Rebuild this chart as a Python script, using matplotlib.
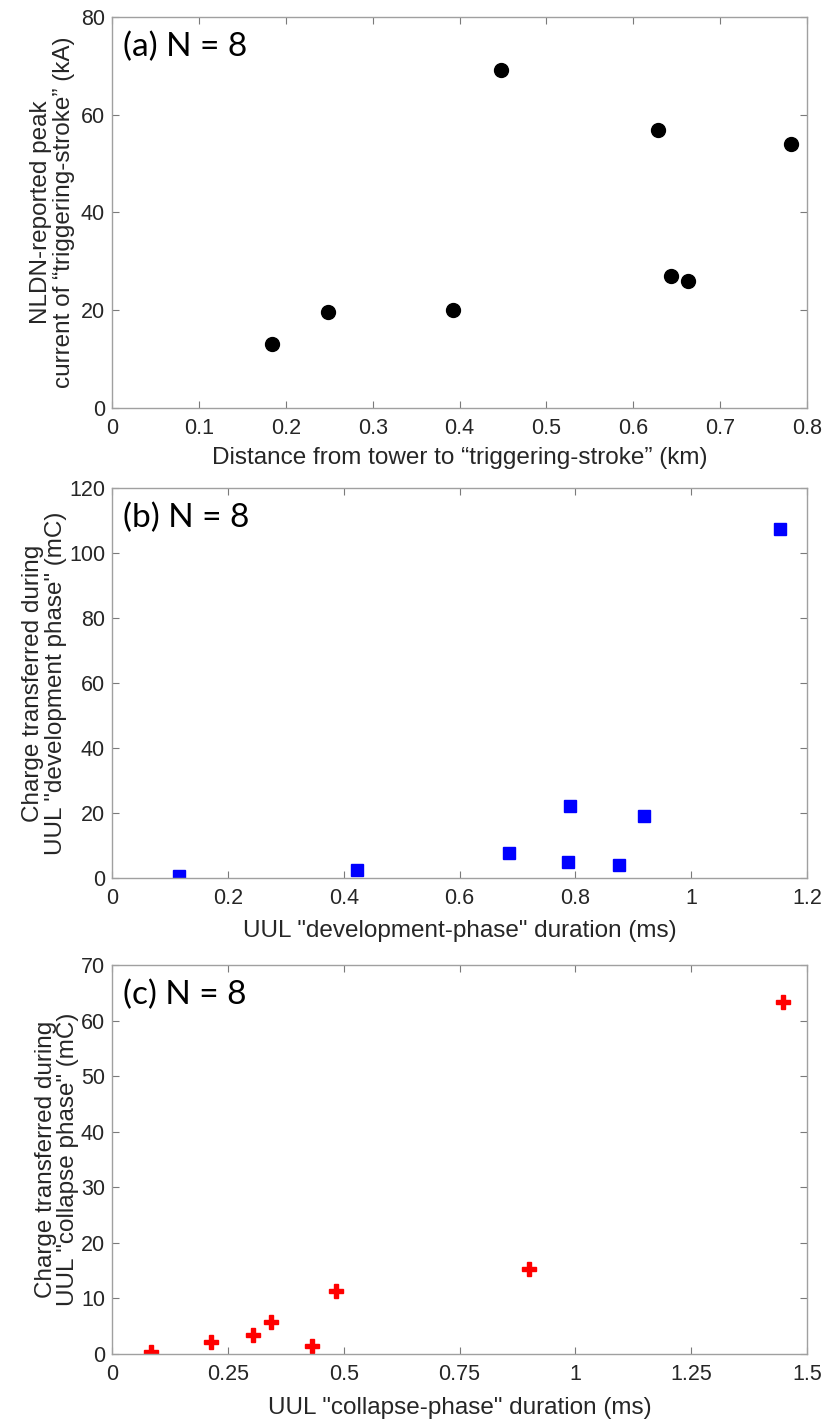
import matplotlib
matplotlib.use('Agg')
import matplotlib.pyplot as plt

# panel (a): NLDN peak current vs distance
dist_km = [0.184, 0.249, 0.392, 0.448, 0.628, 0.644, 0.663, 0.782]
peak_ka = [13.0, 19.7, 20.0, 69.2, 56.9, 27.0, 26.0, 54.0]

# panel (b): development phase
dev_ms = [0.116, 0.423, 0.686, 0.790, 0.787, 0.876, 0.919, 1.153]
dev_mc = [0.5, 2.4, 7.7, 22.1, 4.8, 3.9, 19.2, 107.2]

# panel (c): collapse phase
col_ms = [0.085, 0.214, 0.305, 0.344, 0.431, 0.483, 0.900, 1.449]
col_mc = [0.3, 2.1, 3.5, 5.8, 1.4, 11.3, 15.3, 63.4]

TXT = '#262626'
LBL = 17.5
plt.rcParams['font.family'] = ['Liberation Sans', 'DejaVu Sans']

fig = plt.figure(figsize=(8.25, 14.22), dpi=100)

def setup(ax, xlim, ylim, xticks, yticks, xticklabels=None):
    ax.set_xlim(xlim)
    ax.set_ylim(ylim)
    ax.set_xticks(xticks)
    if xticklabels is not None:
        ax.set_xticklabels(xticklabels)
    ax.set_yticks(yticks)
    ax.tick_params(direction='in', top=True, right=True, length=5,
                   width=0.8, color='#7a7a7a', labelsize=15.5, labelcolor=TXT)
    ax.tick_params(axis='x', pad=7)
    ax.tick_params(axis='y', pad=5)
    for s in ax.spines.values():
        s.set_color('#a0a0a0')
        s.set_linewidth(1.0)

def panel_label(ax, txt):
    ax.text(0.016, 0.962, txt, transform=ax.transAxes, ha='left', va='top',
            fontsize=24, family=['Lato', 'DejaVu Sans'], color='black')

# (a)
ax1 = fig.add_axes([0.1358, 0.7131, 0.8424, 0.275])
ax1.plot(dist_km, peak_ka, 'o', color='black', markersize=10, linestyle='none')
setup(ax1, (0, 0.8), (0, 80), [0, 0.1, 0.2, 0.3, 0.4, 0.5, 0.6, 0.7, 0.8],
      [0, 20, 40, 60, 80], ['0', '0.1', '0.2', '0.3', '0.4', '0.5', '0.6', '0.7', '0.8'])
ax1.set_xlabel('Distance from tower to \u201ctriggering-stroke\u201d (km)', fontsize=LBL, color=TXT)
ax1.set_ylabel('NLDN-reported peak\ncurrent of \u201ctriggering-stroke\u201d (kA)',
               fontsize=LBL, color=TXT, linespacing=1.05)
ax1.xaxis.set_label_coords(0.5, -0.100)
ax1.yaxis.set_label_coords(-0.053, 0.5)
panel_label(ax1, '(a) N = 8')

# (b)
ax2 = fig.add_axes([0.1358, 0.3826, 0.8424, 0.2743])
ax2.plot(dev_ms, dev_mc, 's', color='#0000ff', markersize=9, linestyle='none')
setup(ax2, (0, 1.2), (0, 120), [0, 0.2, 0.4, 0.6, 0.8, 1.0, 1.2],
      [0, 20, 40, 60, 80, 100, 120], ['0', '0.2', '0.4', '0.6', '0.8', '1', '1.2'])
ax2.set_xlabel('UUL "development-phase" duration (ms)', fontsize=LBL, color=TXT)
ax2.set_ylabel('Charge transferred during\nUUL "development phase" (mC)',
               fontsize=LBL, color=TXT, linespacing=1.05)
ax2.xaxis.set_label_coords(0.5, -0.108)
ax2.yaxis.set_label_coords(-0.065, 0.5)
panel_label(ax2, '(b) N = 8')

# (c)
ax3 = fig.add_axes([0.1358, 0.0478, 0.8424, 0.2736])
ax3.plot(col_ms, col_mc, 'P', color='#ff0000', markersize=10, linestyle='none')
setup(ax3, (0, 1.5), (0, 70), [0, 0.25, 0.5, 0.75, 1.0, 1.25, 1.5],
      [0, 10, 20, 30, 40, 50, 60, 70], ['0', '0.25', '0.5', '0.75', '1', '1.25', '1.5'])
ax3.set_xlabel('UUL "collapse-phase" duration (ms)', fontsize=LBL, color=TXT)
ax3.set_ylabel('Charge transferred during\nUUL "collapse phase" (mC)',
               fontsize=LBL, color=TXT, linespacing=1.05)
ax3.xaxis.set_label_coords(0.5, -0.111)
ax3.yaxis.set_label_coords(-0.047, 0.5)
panel_label(ax3, '(c) N = 8')

fig.savefig('out.png', dpi=100)
